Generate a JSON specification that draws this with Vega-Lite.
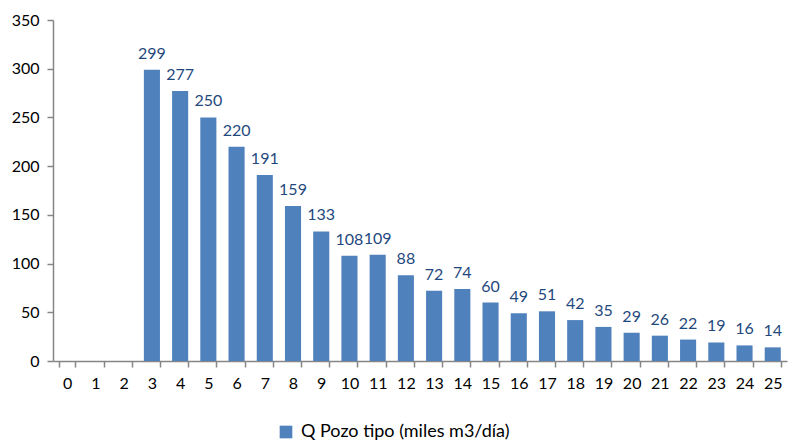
{
  "$schema": "https://vega.github.io/schema/vega-lite/v6.json",
  "width": 734,
  "height": 341,
  "autosize": {"type": "none"},
  "padding": {"left": 53, "top": 20, "right": 5, "bottom": 81},
  "background": "white",
  "config": {
    "view": {"stroke": null},
    "font": "Lato"
  },
  "data": {
    "values": [
      {"anio": "0", "q": null},
      {"anio": "1", "q": null},
      {"anio": "2", "q": null},
      {"anio": "3", "q": 299},
      {"anio": "4", "q": 277},
      {"anio": "5", "q": 250},
      {"anio": "6", "q": 220},
      {"anio": "7", "q": 191},
      {"anio": "8", "q": 159},
      {"anio": "9", "q": 133},
      {"anio": "10", "q": 108},
      {"anio": "11", "q": 109},
      {"anio": "12", "q": 88},
      {"anio": "13", "q": 72},
      {"anio": "14", "q": 74},
      {"anio": "15", "q": 60},
      {"anio": "16", "q": 49},
      {"anio": "17", "q": 51},
      {"anio": "18", "q": 42},
      {"anio": "19", "q": 35},
      {"anio": "20", "q": 29},
      {"anio": "21", "q": 26},
      {"anio": "22", "q": 22},
      {"anio": "23", "q": 19},
      {"anio": "24", "q": 16},
      {"anio": "25", "q": 14}
    ]
  },
  "encoding": {
    "x": {
      "field": "anio",
      "type": "nominal",
      "sort": null,
      "scale": {
        "domain": ["0", "1", "2", "3", "4", "5", "6", "7", "8", "9", "10", "11", "12", "13", "14", "15", "16", "17", "18", "19", "20", "21", "22", "23", "24", "25"],
        "paddingInner": 0.43,
        "paddingOuter": 0.22
      },
      "axis": {
        "title": null,
        "labelAngle": 0,
        "labelFontSize": 16,
        "labelColor": "#000000",
        "labelPadding": 8,
        "domainColor": "#868686",
        "domainWidth": 1.5,
        "tickColor": "#868686",
        "tickWidth": 1.5,
        "tickSize": 6,
        "tickBand": "extent",
        "grid": false
      }
    },
    "y": {
      "field": "q",
      "type": "quantitative",
      "scale": {"domain": [0, 350], "nice": false},
      "axis": {
        "title": null,
        "values": [0, 50, 100, 150, 200, 250, 300, 350],
        "labelFontSize": 16,
        "labelColor": "#000000",
        "labelPadding": 8,
        "domainColor": "#868686",
        "domainWidth": 1.5,
        "tickColor": "#868686",
        "tickWidth": 1.5,
        "tickSize": 6,
        "grid": false
      }
    }
  },
  "layer": [
    {
      "mark": {"type": "bar"},
      "encoding": {
        "color": {
          "datum": "Q Pozo tipo (miles m3/día)",
          "type": "nominal",
          "scale": {"range": ["#4F81BD"]},
          "legend": {
            "title": null,
            "orient": "none",
            "legendX": 224,
            "legendY": 403,
            "symbolType": "square",
            "symbolSize": 160,
            "symbolStrokeWidth": 0,
            "labelFontSize": 18,
            "labelLimit": 0,
            "labelColor": "#000000",
            "labelOffset": 6
          }
        }
      }
    },
    {
      "mark": {"type": "text", "dy": -16, "fontSize": 16, "color": "#1F497D"},
      "encoding": {
        "text": {"field": "q", "type": "quantitative"}
      }
    }
  ]
}
